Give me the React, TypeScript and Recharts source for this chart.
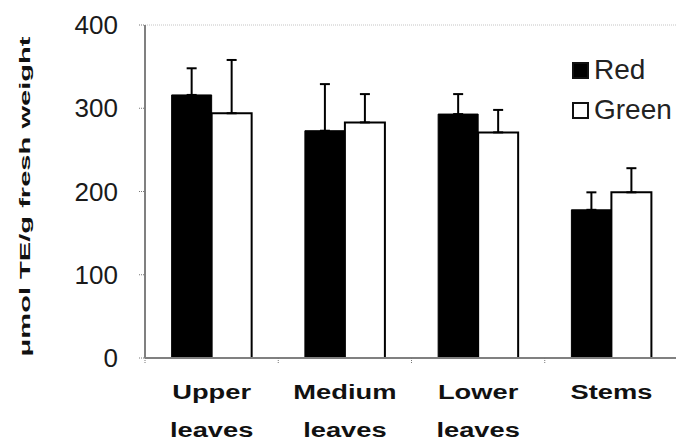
import { BarChart, Bar, XAxis, YAxis, ErrorBar, Legend, ReferenceLine, Label } from "recharts";

const parts = ["Upper leaves", "Medium leaves", "Lower leaves", "Stems"];
const seriesNames = ["Red", "Green"];
const redValues = [316, 273, 293, 178];
const greenValues = [294, 283, 271, 199];
const redErrors = [32, 56, 24, 21];
const greenErrors = [64, 34, 27, 29];
const yTicks = [0, 100, 200, 300, 400];

const data = parts.map((name, i) => ({
  name,
  red: redValues[i],
  green: greenValues[i],
  // one-sided (upper) error bars
  redErr: [0, redErrors[i]],
  greenErr: [0, greenErrors[i]],
}));

const font = "'Liberation Sans', Arial, sans-serif";

const PartTick = (props: any) => {
  const { x, y, payload } = props;
  const words = String(payload.value).split(" ");
  const half = payload.offset || 66.6;
  return (
    <g>
      <line x1={x - half} x2={x - half} y1={y} y2={y + 6} stroke="#777" strokeDasharray="1 1" />
      <g transform={`translate(${x},${y}) scale(1.3,1)`}>
        {words.map((w, i) => (
          <text
            key={w}
            x={0}
            y={41 + i * 38}
            textAnchor="middle"
            fontFamily={font}
            fontWeight="bold"
            fontSize={21}
            fill="#111"
          >
            {w}
          </text>
        ))}
      </g>
    </g>
  );
};

const AxisTitle = (props: any) => {
  const { viewBox } = props;
  const cx = 25;
  const cy = viewBox.y + viewBox.height / 2 + 5;
  return (
    <text
      x={cx - 160}
      y={cy}
      transform={`rotate(-90 ${cx} ${cy})`}
      dominantBaseline="central"
      fontFamily={font}
      fontWeight="bold"
      fontSize={14}
      textLength={320}
      lengthAdjust="spacingAndGlyphs"
      fill="#111"
    >
      μmol TE/g fresh weight
    </text>
  );
};

const SwatchLegend = (props: any) => {
  const items = [...(props.payload || [])].sort(
    (a: any, b: any) => seriesNames.indexOf(a.value) - seriesNames.indexOf(b.value)
  );
  return (
    <div style={{ fontFamily: font, fontSize: 28, color: "#222" }}>
      {items.map((entry: any) => (
        <div key={entry.value} style={{ display: "flex", alignItems: "center", height: 40 }}>
          <span
            style={{
              display: "inline-block",
              width: 17,
              height: 17,
              boxSizing: "border-box",
              background: entry.color,
              border: "2px solid #111",
              marginRight: 5,
            }}
          />
          <span>{entry.value}</span>
        </div>
      ))}
    </div>
  );
};

const App: React.FC = () => {
  return (
    <div
      style={{
        position: "absolute",
        left: 0,
        top: 0,
        width: 676,
        height: 445,
        overflow: "hidden",
        background: "#fff",
      }}
    >
      <BarChart
        width={680}
        height={445}
        data={data}
        margin={{ top: 25, right: 2, bottom: 0, left: 0 }}
        barCategoryGap="20%"
        barGap={0}
      >
        <ReferenceLine y={400} stroke="#c4c4c4" strokeDasharray="1 1" />
        <XAxis
          dataKey="name"
          height={87}
          tickSize={0}
          tickMargin={0}
          interval={0}
          axisLine={{ stroke: "#808080", strokeWidth: 2 }}
          tick={<PartTick />}
        />
        <YAxis
          width={145}
          domain={[0, 400]}
          ticks={yTicks}
          tickSize={6}
          tickMargin={21}
          axisLine={{ stroke: "#808080", strokeWidth: 2 }}
          tickLine={{ stroke: "#777", strokeDasharray: "1 1" }}
          tick={{ fontFamily: font, fontSize: 26, fill: "#1a1a1a" }}
        >
          <Label content={<AxisTitle />} />
        </YAxis>
        <Legend
          layout="horizontal"
          verticalAlign="middle"
          align="center"
          content={<SwatchLegend />}
          wrapperStyle={{ left: 572, top: 50, width: "auto", height: "auto" }}
        />
        <Bar dataKey="red" name="Red" fill="#000" stroke="#000" strokeWidth={1} isAnimationActive={false}>
          <ErrorBar dataKey="redErr" width={5} stroke="#000" strokeWidth={2} direction="y" />
        </Bar>
        <Bar dataKey="green" name="Green" fill="#fff" stroke="#000" strokeWidth={2} isAnimationActive={false}>
          <ErrorBar dataKey="greenErr" width={5} stroke="#000" strokeWidth={2} direction="y" />
        </Bar>
      </BarChart>
    </div>
  );
};

export default App;
